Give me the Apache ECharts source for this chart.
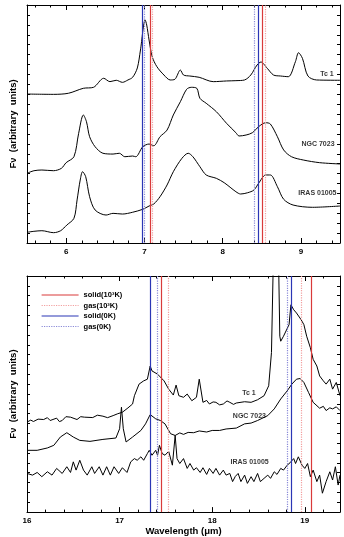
<!DOCTYPE html>
<html><head><meta charset="utf-8">
<script src="https://cdn.jsdelivr.net/npm/echarts@6/dist/echarts.min.js"></script>
<style>html,body{margin:0;padding:0;background:#fff}#c{width:344px;height:537px}</style>
</head><body><div id="c"></div>
<script>
// ---------- DATA (flux in arbitrary units) ----------
// Top panel (6-9.5 micron)
const topTc1Wave  = [5.5,5.84,6.03,6.22,6.35,6.48,6.56,6.64,6.72,6.79,6.85,6.91,6.95,7.01,7.03,7.06,7.1,7.16,7.25,7.33,7.39,7.46,7.5,7.58,7.7,7.88,8.05,8.17,8.28,8.36,8.44,8.49,8.57,8.65,8.74,8.84,8.93,8.97,9.02,9.09,9.2,9.5];
const topTc1Flux  = [15.02,14.99,15.10,15.60,15.70,16.61,16.27,16.41,16.20,16.44,16.71,17.65,19.46,22.49,21.98,20.47,18.79,17.78,16.94,16.44,16.51,17.44,16.94,16.84,16.71,16.27,16.34,16.37,16.44,16.94,17.95,18.25,17.62,16.94,16.84,16.77,18.28,19.19,18.62,16.84,16.44,16.41];
const topNgcWave  = [5.5,5.59,5.69,5.84,5.94,6.0,6.1,6.16,6.22,6.26,6.3,6.37,6.47,6.6,6.68,6.75,6.85,6.89,6.98,7.06,7.12,7.2,7.29,7.37,7.46,7.54,7.6,7.67,7.71,7.79,7.92,8.05,8.17,8.21,8.3,8.38,8.46,8.55,8.61,8.7,8.78,8.88,9.03,9.24,9.5];
const topNgcFlux  = [7.03,7.29,7.36,7.29,7.53,8.10,8.70,11.06,12.91,12.23,10.72,9.71,9.05,8.97,9.05,8.70,8.77,8.70,9.71,9.98,9.81,10.72,11.39,12.91,14.25,15.50,15.70,15.60,14.59,14.09,13.24,12.07,11.12,10.79,10.89,11.12,11.73,12.13,12.00,10.72,9.38,8.70,8.37,8.10,7.97];
const topIrasWave = [5.5,5.59,5.69,5.84,5.93,6.01,6.1,6.14,6.18,6.21,6.25,6.3,6.37,6.51,6.6,6.72,6.85,6.98,7.06,7.12,7.2,7.29,7.37,7.48,7.56,7.62,7.71,7.79,7.92,8.02,8.17,8.23,8.32,8.4,8.46,8.55,8.61,8.7,8.78,8.9,9.15,9.5];
const topIrasFlux = [1.08,1.18,1.24,1.04,1.24,1.82,2.49,4.34,6.35,7.19,6.69,4.67,3.33,2.82,2.99,2.92,3.10,3.40,3.73,3.93,4.67,5.85,7.19,8.54,9.05,8.70,7.69,6.86,6.52,6.08,5.17,4.94,5.07,5.34,6.02,6.86,6.86,5.68,4.41,3.83,3.60,3.73];

// Bottom panel (16-19.4 micron)
const botTc1Wave  = [16.0,16.04,16.07,16.12,16.18,16.22,16.25,16.32,16.35,16.38,16.42,16.47,16.54,16.58,16.62,16.71,16.76,16.82,16.87,16.93,16.98,17.03,17.09,17.14,17.16,17.21,17.26,17.3,17.33,17.35,17.41,17.48,17.53,17.58,17.61,17.64,17.69,17.73,17.78,17.83,17.86,17.9,17.94,17.97,18.01,18.04,18.08,18.12,18.16,18.19,18.23,18.26,18.28,18.35,18.42,18.49,18.56,18.61,18.64,18.66,18.67,18.71,18.72,18.73,18.74,18.77,18.79,18.83,18.85,18.88,18.91,18.93,18.96,18.99,19.02,19.06,19.09,19.13,19.16,19.2,19.23,19.27,19.3,19.34,19.38];
const botTc1Flux  = [9.15,9.35,9.21,9.45,9.41,9.60,9.31,9.55,9.20,9.31,9.70,9.65,9.41,9.70,9.65,9.61,9.85,9.75,9.60,9.81,10.00,10.15,10.59,10.99,11.83,13.01,13.34,13.51,14.85,14.35,14.02,13.34,12.50,11.90,12.91,11.83,11.67,12.00,11.32,11.67,13.51,11.16,11.35,10.99,11.20,11.16,10.90,10.99,11.30,11.16,10.95,11.09,11.16,11.22,11.16,11.42,11.83,12.84,16.23,25.6,29.6,29.6,23.6,17.88,17.37,17.88,17.72,19.06,21.07,20.57,20.24,20.40,19.56,19.06,17.88,16.71,15.53,14.85,13.84,13.34,13.01,13.51,12.50,13.18,11.83];
const botNgcWave  = [16.0,16.11,16.22,16.29,16.36,16.43,16.5,16.57,16.68,16.82,16.96,17.0,17.02,17.04,17.07,17.09,17.14,17.16,17.23,17.28,17.33,17.39,17.44,17.49,17.55,17.6,17.65,17.69,17.74,17.8,17.86,17.94,18.0,18.08,18.15,18.26,18.35,18.42,18.49,18.6,18.67,18.74,18.81,18.86,18.91,18.95,18.99,19.04,19.09,19.16,19.2,19.23,19.27,19.3,19.34,19.38];
const botNgcFlux  = [6.28,6.28,6.52,6.79,7.63,8.07,7.63,7.29,7.19,7.39,7.53,8.47,10.66,8.47,7.13,7.29,7.63,7.53,8.30,8.97,9.91,9.48,9.31,8.97,7.97,7.79,8.05,7.90,8.10,8.07,8.25,8.14,8.30,8.30,8.45,8.54,8.97,9.05,9.31,9.81,10.49,11.50,12.33,13.01,13.51,13.58,13.18,12.17,11.16,10.56,10.75,10.32,10.60,10.49,10.70,10.32];
const botIrasWave = [16.0,16.06,16.11,16.16,16.22,16.27,16.32,16.38,16.43,16.47,16.5,16.53,16.57,16.61,16.65,16.7,16.73,16.78,16.82,16.86,16.9,16.94,16.99,17.03,17.08,17.12,17.16,17.19,17.23,17.26,17.3,17.32,17.35,17.39,17.41,17.43,17.46,17.49,17.53,17.57,17.6,17.62,17.65,17.69,17.73,17.76,17.8,17.83,17.87,17.9,17.94,17.97,18.01,18.04,18.08,18.12,18.15,18.19,18.22,18.25,18.28,18.31,18.35,18.38,18.42,18.45,18.49,18.52,18.56,18.6,18.63,18.67,18.7,18.74,18.77,18.81,18.84,18.88,18.9,18.93,18.97,19.0,19.03,19.06,19.09,19.13,19.16,19.19,19.23,19.27,19.3,19.33,19.36,19.38];
const botIrasFlux = [3.93,3.76,4.03,3.60,4.10,3.76,4.44,3.93,4.61,4.03,5.11,4.27,5.27,4.27,3.76,4.61,3.93,4.61,3.76,4.61,3.76,4.61,3.93,4.51,4.03,5.11,5.44,5.27,5.62,5.27,5.95,6.28,5.78,6.28,5.78,6.79,5.95,5.78,6.18,4.77,7.79,5.44,4.94,5.44,4.44,4.94,4.27,4.51,4.03,4.51,3.83,4.44,3.93,4.44,3.76,4.27,3.76,3.93,3.10,3.63,3.93,3.10,3.76,2.92,3.60,3.10,3.93,3.10,3.43,3.76,3.43,4.10,3.83,4.44,4.27,4.77,5.01,5.44,4.94,5.62,4.77,4.44,4.94,3.60,4.27,3.10,3.76,1.92,3.10,4.10,3.26,4.61,2.75,3.76];

// Feature positions (micron)
const topSolid1000 = [7.072, 8.514];
const topGas1000   = [7.101, 8.548];
const topSolid0    = [6.968, 8.452];
const topGas0      = [6.995, 8.402];
const botSolid1000 = [17.455, 19.072];
const botGas1000   = [17.523, 18.957];
const botSolid0    = [17.328, 18.848];
const botGas0      = [17.405, 18.808];

// Object labels
const labelNames = ['Tc 1', 'NGC 7023', 'IRAS 01005'];
const topLabelX  = [9.42, 9.43, 9.455];
const topLabelY  = [17.04, 9.98, 5.07];
const botLabelX  = [18.47, 18.58, 18.61];
const botLabelY  = [12.1, 9.81, 5.11];

// Axis ticks
const topMajor = [6, 7, 8, 9];
const botMajor = [16, 17, 18, 19];
const topMinor = [5.6,5.8,6.2,6.4,6.6,6.8,7.2,7.4,7.6,7.8,8.2,8.4,8.6,8.8,9.2,9.4];
const botMinor = [16.2,16.4,16.6,16.8,17.2,17.4,17.6,17.8,18.2,18.4,18.6,18.8,19.2];

const legendNames = ['solid(10\u00b3K)', 'gas(10\u00b3K)', 'solid(0K)', 'gas(0K)'];
// ---------- END DATA ----------

const FONT = 'Liberation Sans';
const zip = (a, b) => a.map((v, i) => [v, b[i]]);
const colors = { s1000: '#d93a3a', g1000: '#f2a0a0', s0: '#2b36b5', g0: '#8a8ad8' };

function xAxes(grid, min, max, major, minor, showLabel, name) {
  const base = { type: 'value', gridIndex: grid, min, max, splitLine: { show: false } };
  return [
    Object.assign({}, base, { position: 'bottom',
      axisLine: { show: true, lineStyle: { color: '#000', width: 1 } },
      axisTick: { show: true, inside: true, length: 5, customValues: major, lineStyle: { color: '#000' } },
      axisLabel: { show: showLabel, customValues: major, margin: 5, color: '#000', fontSize: 8, fontFamily: FONT, fontWeight: 'bold' },
      name: name || '', nameLocation: 'middle', nameGap: 12,
      nameTextStyle: { color: '#000', fontSize: 9.5, fontFamily: FONT, fontWeight: 'bold' } }),
    Object.assign({}, base, { position: 'bottom',
      axisLine: { show: false },
      axisTick: { show: true, inside: true, length: 2.5, customValues: minor, lineStyle: { color: '#000' } },
      axisLabel: { show: false } }),
    Object.assign({}, base, { position: 'top',
      axisLine: { show: true, lineStyle: { color: '#000', width: 1 } },
      axisTick: { show: true, inside: true, length: 5, customValues: major, lineStyle: { color: '#000' } },
      axisLabel: { show: false } }),
    Object.assign({}, base, { position: 'top',
      axisLine: { show: false },
      axisTick: { show: true, inside: true, length: 2.5, customValues: minor, lineStyle: { color: '#000' } },
      axisLabel: { show: false } })
  ];
}
function yAxes(grid) {
  const base = { type: 'value', gridIndex: grid, min: 0, max: 24, interval: 1, splitLine: { show: false },
    axisLine: { show: true, lineStyle: { color: '#000', width: 1 } },
    axisTick: { show: true, inside: true, length: 3, lineStyle: { color: '#000' } },
    axisLabel: { show: false } };
  return [
    Object.assign({}, base, { position: 'left', name: 'F\u03bd  (arbitrary  units)', nameLocation: 'middle', nameGap: 9,
      nameTextStyle: { color: '#000', fontSize: 9.5, fontFamily: FONT, fontWeight: 'bold' } }),
    Object.assign({}, base, { position: 'right' })
  ];
}

function curve(name, xa, ya, wave, flux, smooth) {
  return { type: 'line', name, xAxisIndex: xa, yAxisIndex: ya, data: zip(wave, flux),
    showSymbol: false, symbol: 'none', smooth: smooth, clip: true, silent: true,
    lineStyle: { color: '#000', width: 1 } };
}
function vlines(name, xa, ya, xs, color, type) {
  return { type: 'line', name, xAxisIndex: xa, yAxisIndex: ya, data: [], symbol: 'none',
    legendIcon: 'none',
    lineStyle: { color, type, width: 1.2 }, itemStyle: { color, opacity: 0 },
    markLine: { silent: true, symbol: ['none', 'none'], label: { show: false },
      lineStyle: { color, type, width: 1.2, opacity: 1 }, data: xs.map(v => ({ xAxis: v })) } };
}
function labels(xa, ya, xs, ys) {
  return { type: 'scatter', xAxisIndex: xa, yAxisIndex: ya, symbolSize: 0, silent: true,
    data: xs.map((x, i) => ({ value: [x, ys[i]], name: labelNames[i] })),
    label: { show: true, position: 'left', distance: 0, formatter: p => p.name,
      color: '#000', fontSize: 7, fontFamily: FONT, fontWeight: 'bold' } };
}

const chart = echarts.init(document.getElementById('c'), null, { renderer: 'canvas' });
chart.setOption({
  animation: false,
  backgroundColor: '#fff',
  grid: [
    { left: 23, right: 4, top: 5, height: 238 },
    { left: 23, right: 4, top: 276, height: 238 }
  ],
  xAxis: [].concat(
    xAxes(0, 5.5, 9.5, topMajor, topMinor, true, ''),
    xAxes(1, 16, 19.38, botMajor, botMinor, true, 'Wavelength (\u03bcm)')
  ),
  yAxis: [].concat(yAxes(0), yAxes(1)),
  legend: [{
    show: true,
    data: legendNames.map(n => ({ name: n })),
    orient: 'vertical', left: 41, top: 291, right: 'auto', bottom: 'auto',
    itemWidth: 37, itemHeight: 7, itemGap: 2.5, padding: 0,
    itemStyle: { opacity: 0 },
    lineStyle: { width: 1.2 },
    textStyle: { color: '#000', fontSize: 7.5, fontFamily: FONT, fontWeight: 'bold', padding: [0, 0, 0, 0] },
    selectedMode: false
  }],
  series: [
    vlines(legendNames[0], 0, 0, topSolid1000, colors.s1000, 'solid'),
    vlines(legendNames[1], 0, 0, topGas1000, colors.g1000, 'dotted'),
    vlines(legendNames[2], 0, 0, topSolid0, colors.s0, 'solid'),
    vlines(legendNames[3], 0, 0, topGas0, colors.g0, 'dotted'),
    curve('Tc 1', 0, 0, topTc1Wave, topTc1Flux, 0.3),
    curve('NGC 7023', 0, 0, topNgcWave, topNgcFlux, 0.3),
    curve('IRAS 01005', 0, 0, topIrasWave, topIrasFlux, 0.3),
    labels(0, 0, topLabelX, topLabelY),
    vlines(legendNames[0], 4, 2, botSolid1000, colors.s1000, 'solid'),
    vlines(legendNames[1], 4, 2, botGas1000, colors.g1000, 'dotted'),
    vlines(legendNames[2], 4, 2, botSolid0, colors.s0, 'solid'),
    vlines(legendNames[3], 4, 2, botGas0, colors.g0, 'dotted'),
    curve('Tc 1 b', 4, 2, botTc1Wave, botTc1Flux, false),
    curve('NGC 7023 b', 4, 2, botNgcWave, botNgcFlux, false),
    curve('IRAS 01005 b', 4, 2, botIrasWave, botIrasFlux, false),
    labels(4, 2, botLabelX, botLabelY)
  ]
});
</script></body></html>
